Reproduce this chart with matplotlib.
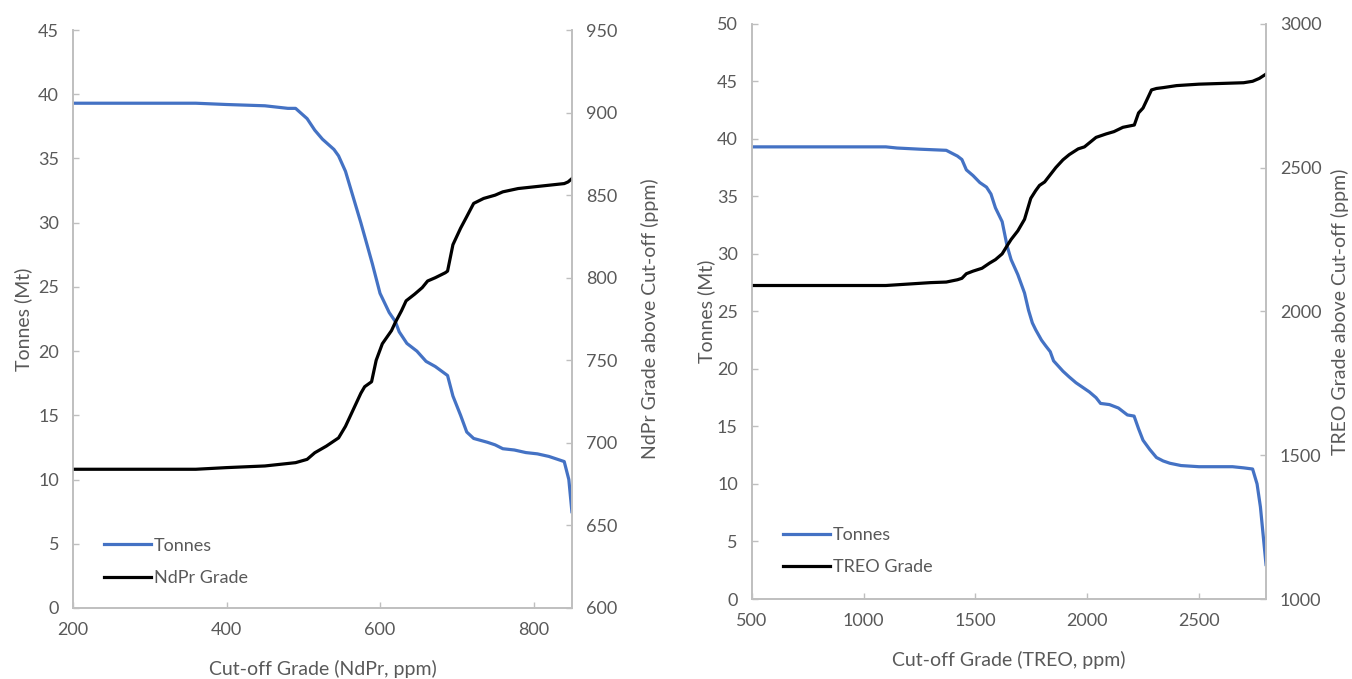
import matplotlib.pyplot as plt

# NdPr cut-off curve (left panel)
ndpr_cutoff = [200, 300, 360, 400, 450, 480, 490, 505, 515, 525, 540, 546, 555, 565, 575,
               583, 590, 600, 612, 620, 625, 635, 648, 660, 672, 688, 695, 705, 713, 722,
               740, 750, 760, 775, 790, 805, 820, 835, 840, 846, 850]
ndpr_tonnes = [39.3, 39.3, 39.3, 39.2, 39.1, 38.9, 38.9, 38.1, 37.2, 36.5, 35.7, 35.2, 34.0,
               32.0, 30.0, 28.3, 26.8, 24.5, 23.0, 22.3, 21.5, 20.6, 20.0, 19.2, 18.8, 18.1,
               16.5, 15.0, 13.7, 13.2, 12.9, 12.7, 12.4, 12.3, 12.1, 12.0, 11.8, 11.5, 11.4,
               10.0, 7.5]
ndpr_grade_x = [200, 300, 360, 400, 450, 490, 505, 515, 530, 546, 555, 565, 575, 580, 589,
                595, 603, 615, 620, 628, 634, 645, 655, 662, 672, 685, 688, 695, 705, 713,
                722, 735, 750, 760, 780, 800, 820, 840, 845, 850]
ndpr_grade = [684, 684, 684, 685, 686, 688, 690, 694, 698, 703, 710, 720, 730, 734, 737,
              750, 760, 768, 773, 780, 786, 790, 794, 798, 800, 803, 804, 820, 830, 837,
              845, 848, 850, 852, 854, 855, 856, 857, 858, 860]

# TREO cut-off curve (right panel)
treo_cutoff = [500, 800, 1100, 1150, 1250, 1370, 1420, 1440, 1460, 1490, 1520, 1550, 1570,
               1590, 1620, 1642, 1660, 1690, 1720, 1738, 1755, 1770, 1796, 1815, 1835, 1850,
               1892, 1920, 1950, 1980, 2010, 2040, 2060, 2100, 2140, 2180, 2210, 2230, 2250,
               2280, 2310, 2340, 2370, 2420, 2500, 2650, 2700, 2740, 2760, 2775, 2790, 2800]
treo_tonnes = [39.3, 39.3, 39.3, 39.2, 39.1, 39.0, 38.5, 38.2, 37.3, 36.8, 36.2, 35.8, 35.2,
               34.0, 32.8, 30.7, 29.5, 28.2, 26.6, 25.1, 24.0, 23.4, 22.5, 22.0, 21.5, 20.7,
               19.8, 19.3, 18.8, 18.4, 18.0, 17.5, 17.0, 16.9, 16.6, 16.0, 15.9, 14.8, 13.8,
               13.0, 12.3, 12.0, 11.8, 11.6, 11.5, 11.5, 11.4, 11.3, 10.0, 8.0, 5.0, 3.0]
treo_grade_x = [500, 800, 1100, 1200, 1300, 1370, 1420, 1440, 1460, 1490, 1530, 1564, 1590,
                1620, 1642, 1660, 1690, 1720, 1748, 1770, 1787, 1810, 1830, 1860, 1892, 1920,
                1960, 1988, 2040, 2085, 2120, 2160, 2211, 2230, 2250, 2270, 2288, 2310, 2340,
                2400, 2500, 2700, 2740, 2770, 2800]
treo_grade = [2090, 2090, 2090, 2095, 2100, 2102, 2110, 2115, 2131, 2140, 2150, 2168, 2180,
              2200, 2228, 2250, 2280, 2320, 2393, 2420, 2438, 2450, 2470, 2500, 2527, 2545,
              2565, 2572, 2605, 2617, 2625, 2640, 2648, 2690, 2707, 2740, 2770, 2775, 2778,
              2785, 2790, 2795, 2800, 2810, 2825]

BLUE = "#4472C4"
GREY = "#BFBFBF"
TXT = "#595959"

plt.rcParams["font.family"] = ["Lato", "DejaVu Sans"]


def style(ax, twin):
    for a in (ax, twin):
        a.spines["top"].set_visible(False)
        for s in ("left", "right", "bottom"):
            a.spines[s].set_color(GREY)
            a.spines[s].set_linewidth(1.2)
        a.tick_params(direction="in", colors=GREY, labelcolor=TXT, length=4, width=1,
                      labelsize=13, pad=10)


fig = plt.figure(figsize=(13.52, 6.79), dpi=100)

# left panel
ax1 = fig.add_axes([0.054, 0.1046, 0.369, 0.8512])
tw1 = ax1.twinx()
l1, = ax1.plot(ndpr_cutoff, ndpr_tonnes, color=BLUE, lw=2.3, label="Tonnes")
l2, = tw1.plot(ndpr_grade_x, ndpr_grade, color="black", lw=2.3, label="NdPr Grade")
ax1.set_xlim(200, 850)
ax1.set_ylim(0, 45)
ax1.set_yticks(range(0, 46, 5))
ax1.set_xticks([200, 400, 600, 800])
tw1.set_ylim(600, 950)
tw1.set_yticks(range(600, 951, 50))
style(ax1, tw1)
ax1.set_xlabel("Cut-off Grade (NdPr, ppm)", color=TXT, fontsize=14, labelpad=16)
ax1.set_ylabel("Tonnes (Mt)", color=TXT, fontsize=14, labelpad=4)
tw1.set_ylabel("NdPr Grade above Cut-off (ppm)", color=TXT, fontsize=14, labelpad=17)
ax1.legend(handles=[l1, l2], loc="lower left", bbox_to_anchor=(0.03, 0.01), frameon=False,
           labelcolor=TXT, fontsize=13, handlelength=2.6, handletextpad=0.15,
           labelspacing=0.9)

# right panel
ax2 = fig.add_axes([0.556, 0.1178, 0.3804, 0.8472])
tw2 = ax2.twinx()
l3, = ax2.plot(treo_cutoff, treo_tonnes, color=BLUE, lw=2.3, label="Tonnes")
l4, = tw2.plot(treo_grade_x, treo_grade, color="black", lw=2.3, label="TREO Grade")
ax2.set_xlim(500, 2800)
ax2.set_ylim(0, 50)
ax2.set_yticks(range(0, 51, 5))
ax2.set_xticks([500, 1000, 1500, 2000, 2500])
tw2.set_ylim(1000, 3000)
tw2.set_yticks([1000, 1500, 2000, 2500, 3000])
style(ax2, tw2)
ax2.set_xlabel("Cut-off Grade (TREO, ppm)", color=TXT, fontsize=14, labelpad=16)
ax2.set_ylabel("Tonnes (Mt)", color=TXT, fontsize=14, labelpad=1)
tw2.set_ylabel("TREO Grade above Cut-off (ppm)", color=TXT, fontsize=14, labelpad=7)
ax2.legend(handles=[l3, l4], loc="lower left", bbox_to_anchor=(0.03, 0.013), frameon=False,
           labelcolor=TXT, fontsize=13, handlelength=2.6, handletextpad=0.15,
           labelspacing=0.9)

fig.savefig("out.png", dpi=100)
